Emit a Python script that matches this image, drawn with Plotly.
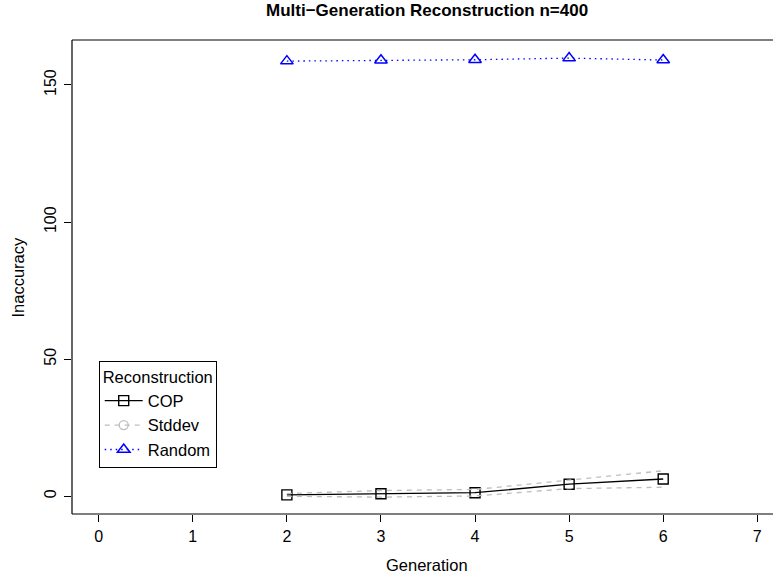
import plotly.graph_objects as go

generations = [2, 3, 4, 5, 6]
cop_values = [0.5, 0.9, 1.3, 4.4, 6.3]
stddev_upper = [1.0, 2.1, 2.5, 6.0, 9.3]
stddev_lower = [0.0, -0.3, 0.1, 2.8, 3.3]
random_values = [158.7, 159.0, 159.2, 159.8, 159.1]
x_ticks = [0, 1, 2, 3, 4, 5, 6, 7]
y_ticks = [0, 50, 100, 150]

W, H = 773, 581
L, T, B = 72.3, 40.3, 514.0
PH = B - T
FONT = "Liberation Sans, Arial, Helvetica, sans-serif"

def py(p):
    return (B - p) / PH

def px(p):
    return (p - L) / (W - L)

fig = go.Figure()
fig.add_trace(go.Scatter(
    x=generations, y=cop_values, name="COP", mode="lines+markers",
    line=dict(color="black", width=1.3),
    marker=dict(symbol="square-open", size=10, color="black", line=dict(width=1.4)),
))
fig.add_trace(go.Scatter(
    x=[None], y=[None], name="Stddev", mode="lines+markers",
    line=dict(color="#BEBEBE", width=1.3, dash="5px,5px"),
    marker=dict(symbol="circle-open", size=9, color="#BEBEBE", line=dict(width=1.3)),
))
fig.add_trace(go.Scatter(
    x=generations, y=random_values, name="Random", mode="lines+markers",
    line=dict(color="#0000FF", width=1.3, dash="1.5px,4px"),
    marker=dict(symbol="triangle-up-open", size=11, color="#0000FF", line=dict(width=1.5)),
))
for vals in (stddev_upper, stddev_lower):
    fig.add_trace(go.Scatter(
        x=generations, y=vals, mode="lines", showlegend=False,
        line=dict(color="#BEBEBE", width=1.3, dash="5px,5px"),
    ))

# box lines (top, left, bottom); right side falls outside the window
for (x0, y0, x1, y1) in [(0, 1, 1.02, 1), (0, 0, 0, 1), (0, 0, 1.02, 0)]:
    fig.add_shape(type="line", xref="paper", yref="paper", x0=x0, y0=y0, x1=x1, y1=y1,
                  line=dict(color="black", width=1.2))

fig.add_annotation(text="<b>Multi\u2212Generation Reconstruction n=400</b>", xref="paper", yref="paper",
                   x=px(427.6), y=py(11), xanchor="center", yanchor="middle", showarrow=False,
                   font=dict(family=FONT, size=17, color="black"))
fig.add_annotation(text="Generation", xref="paper", yref="paper",
                   x=px(427.6), y=py(565), xanchor="center", yanchor="middle", showarrow=False,
                   font=dict(family=FONT, size=16.5, color="black"))
fig.add_annotation(text="Inaccuracy", xref="paper", yref="paper", textangle=-90,
                   x=px(18), y=py(277), xanchor="center", yanchor="middle", showarrow=False,
                   font=dict(family=FONT, size=16.5, color="black"))

fig.update_layout(
    width=W, height=H,
    margin=dict(l=L, r=0, t=T, b=H - B, pad=0, autoexpand=False),
    paper_bgcolor="white", plot_bgcolor="white",
    font=dict(family=FONT, size=16, color="black"),
    showlegend=True,
    legend=dict(
        x=px(99), y=py(361), xanchor="left", yanchor="top",
        bordercolor="black", borderwidth=1, bgcolor="white",
        font=dict(family=FONT, size=16.5, color="black"),
        title=dict(text="Reconstruction", side="top center", font=dict(family=FONT, size=16.5)),
        itemwidth=38, tracegroupgap=0,
    ),
    xaxis=dict(
        range=[-0.284, 7.167], tickmode="array", tickvals=x_ticks, automargin=False,
        showgrid=False, zeroline=False, showline=False,
        ticks="outside", ticklen=7, tickcolor="black", tickwidth=1,
        tickfont=dict(family=FONT, size=16), ticklabelstandoff=1,
    ),
    yaxis=dict(
        range=[-6.46, 166.4], tickmode="array", tickvals=y_ticks, automargin=False,
        showgrid=False, zeroline=False, showline=False,
        ticks="outside", ticklen=7, tickcolor="black", tickwidth=1,
        tickangle=-90, tickfont=dict(family=FONT, size=16), ticklabelstandoff=2,
    ),
)
fig.write_html("out.html", config={"displayModeBar": False},
               post_script="document.body.style.margin='0';document.body.style.overflow='hidden';")
